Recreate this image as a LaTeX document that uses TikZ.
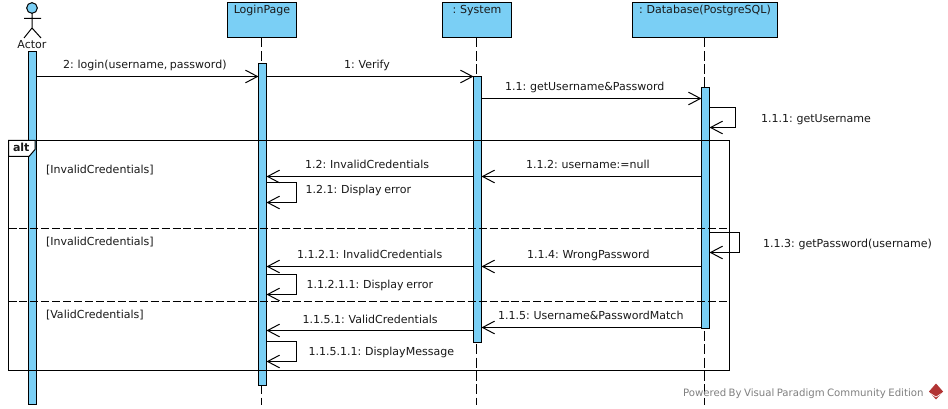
\documentclass[tikz,border=0pt]{standalone}
\usepackage{fontspec}
\setmainfont[WordSpace=0.75]{DejaVu Sans}
\usetikzlibrary{arrows.meta}
\definecolor{vpblue}{RGB}{122,207,245}
\definecolor{vpgrey}{RGB}{128,128,128}
\definecolor{vpred}{RGB}{178,52,52}
\tikzset{
  x=0.75pt,y=-0.75pt,
  every node/.style={inner sep=0pt,outer sep=0pt,font=\fontsize{8.27pt}{10pt}\selectfont,text=black!90},
  thin line/.style={line width=0.75pt,draw=black},
  objbox/.style={thin line,fill=vpblue,minimum height=26.25pt,text height=8.2pt,text depth=18.05pt,text=black!90},
  barbox/.style={thin line,fill=vpblue,minimum width=6pt},
  lifeline/.style={line width=0.75pt,dash pattern=on 7.5pt off 2.5pt},
  msg/.style={thin line,-{Straight Barb[length=9pt,width=9.5pt,line width=0.75pt]}},
  lbl/.style={anchor=base west},
  framedash/.style={line width=0.75pt,dash pattern=on 6pt off 2.2pt},
}
\begin{document}
\begin{tikzpicture}
\useasboundingbox (0,0) rectangle (948,409);
\fill[white] (0,0) rectangle (948,409);
% objects
\node[objbox,minimum width=51.75pt] (login) at (262,20) {LoginPage};
\node[objbox,minimum width=51.75pt] (system) at (477,20) {: System};
\node[objbox,minimum width=108.75pt] (db) at (705,20) {: Database(PostgreSQL)};
% actor
\node[circle,thin line,fill=vpblue,minimum size=8pt] (head) at (32,8) {};
\coordinate (hip) at (32,28);
\coordinate (armL) at (24,18.5);
\coordinate (armR) at (41,18.5);
\coordinate (footL) at (24,38);
\coordinate (footR) at (41,38);
\draw[thin line] (head.south) -- (hip) (armL) -- (armR) (footL) -- (hip) -- (footR);
\node[anchor=base] (actor) at (32,49) {Actor};
% lifeline ends
\coordinate (lend) at (261.5,405);
\coordinate (send) at (476.5,405);
\coordinate (dend) at (704.5,405);
\draw[lifeline] (login.south -| lend) -- (lend);
\draw[lifeline] (system.south -| send) -- (send);
\draw[lifeline] (db.south -| dend) -- (dend);
% activation bars
\node[barbox,minimum height=264.75pt] (abar) at (32.5,228) {};
\node[barbox,minimum height=241.5pt] (lbar) at (262.5,224.5) {};
\node[barbox,minimum height=199.5pt] (sbar) at (477.5,209.5) {};
\node[barbox,minimum height=180.75pt] (dbar) at (705.5,208) {};
% alt frame
\coordinate (fTL) at (8.5,140.5);
\coordinate (fBR) at (729.5,370.5);
\coordinate (d1) at (0,228.5);
\coordinate (d2) at (0,301.5);
\draw[thin line] (fTL) rectangle (fBR);
\draw[framedash] (fTL |- d1) -- (fBR |- d1);
\draw[framedash] (fTL |- d2) -- (fBR |- d2);
\draw[thin line,fill=white] (8.5,140.5) -- (35,140.5) -- (35,149.5) -- (29,156.5) -- (8.5,156.5) -- cycle;
\node[lbl,font=\fontsize{8.27pt}{10pt}\selectfont\bfseries] (alt) at (13,151.5) {alt};
\node[lbl] (g1) at (46,174) {[InvalidCredentials]};
\node[lbl] (g2) at (46,246) {[InvalidCredentials]};
\node[lbl] (g3) at (46,318) {[ValidCredentials]};
% message levels
\coordinate (m1) at (0,76.5);
\coordinate (m2) at (0,98.5);
\coordinate (m3a) at (0,107.5);
\coordinate (m3b) at (0,127.5);
\coordinate (m4) at (0,176.5);
\coordinate (m5a) at (0,182.5);
\coordinate (m5b) at (0,202.5);
\coordinate (m6a) at (0,232.5);
\coordinate (m6b) at (0,252.5);
\coordinate (m7) at (0,266.5);
\coordinate (m8a) at (0,274.5);
\coordinate (m8b) at (0,294.5);
\coordinate (m9) at (0,327.5);
\coordinate (m10) at (0,330.5);
\coordinate (m11a) at (0,341.5);
\coordinate (m11b) at (0,361.5);
\coordinate (lx) at (296.5,0);
\coordinate (dx1) at (735.5,0);
\coordinate (dx2) at (739.5,0);
% messages
\draw[msg] (abar.east |- m1) -- (lbar.west |- m1);
\draw[msg] (lbar.east |- m1) -- (sbar.west |- m1);
\draw[msg] (sbar.east |- m2) -- (dbar.west |- m2);
\draw[msg] (dbar.east |- m3a) -- (dx1 |- m3a) -- (dx1 |- m3b) -- (dbar.east |- m3b);
\draw[msg] (dbar.west |- m4) -- (sbar.east |- m4);
\draw[msg] (sbar.west |- m4) -- (lbar.east |- m4);
\draw[msg] (lbar.east |- m5a) -- (lx |- m5a) -- (lx |- m5b) -- (lbar.east |- m5b);
\draw[msg] (dbar.east |- m6a) -- (dx2 |- m6a) -- (dx2 |- m6b) -- (dbar.east |- m6b);
\draw[msg] (dbar.west |- m7) -- (sbar.east |- m7);
\draw[msg] (sbar.west |- m7) -- (lbar.east |- m7);
\draw[msg] (lbar.east |- m8a) -- (lx |- m8a) -- (lx |- m8b) -- (lbar.east |- m8b);
\draw[msg] (dbar.west |- m9) -- (sbar.east |- m9);
\draw[msg] (sbar.west |- m10) -- (lbar.east |- m10);
\draw[msg] (lbar.east |- m11a) -- (lx |- m11a) -- (lx |- m11b) -- (lbar.east |- m11b);
% labels
\node[lbl] (t1) at (63,69) {2: login(username, password)};
\node[anchor=base] (t2) at (367,69) {1: Verify};
\node[lbl] (t3) at (505,91) {1.1: getUsername\&Password};
\node[lbl] (t4) at (761,123) {1.1.1: getUsername};
\node[lbl] (t5) at (305,169) {1.2: InvalidCredentials};
\node[lbl] (t6) at (526,169) {1.1.2: username:=null};
\node[lbl] (t7) at (305.5,194) {1.2.1: Display error};
\node[lbl] (t8) at (763,248) {1.1.3: getPassword(username)};
\node[lbl] (t9) at (297,259) {1.1.2.1: InvalidCredentials};
\node[lbl] (t10) at (527,259) {1.1.4: WrongPassword};
\node[lbl] (t11) at (306.5,289) {1.1.2.1.1: Display error};
\node[lbl] (t12) at (498,320) {1.1.5: Username\&PasswordMatch};
\node[lbl] (t13) at (302.5,323) {1.1.5.1: ValidCredentials};
\node[lbl] (t14) at (308.5,355) {1.1.5.1.1: DisplayMessage};
% watermark
\node[lbl,text=vpgrey,font=\fontsize{7.62pt}{9pt}\selectfont] (wm) at (683,396) {Powered By Visual Paradigm Community Edition};
\fill[vpred] (936,383.5) -- (943,391.5) -- (936,399.5) -- (929,391.5) -- cycle;
\draw[white,line width=0.5pt] (930.5,393.5) -- (936,397) -- (941.5,393.5);
\end{tikzpicture}
\end{document}
